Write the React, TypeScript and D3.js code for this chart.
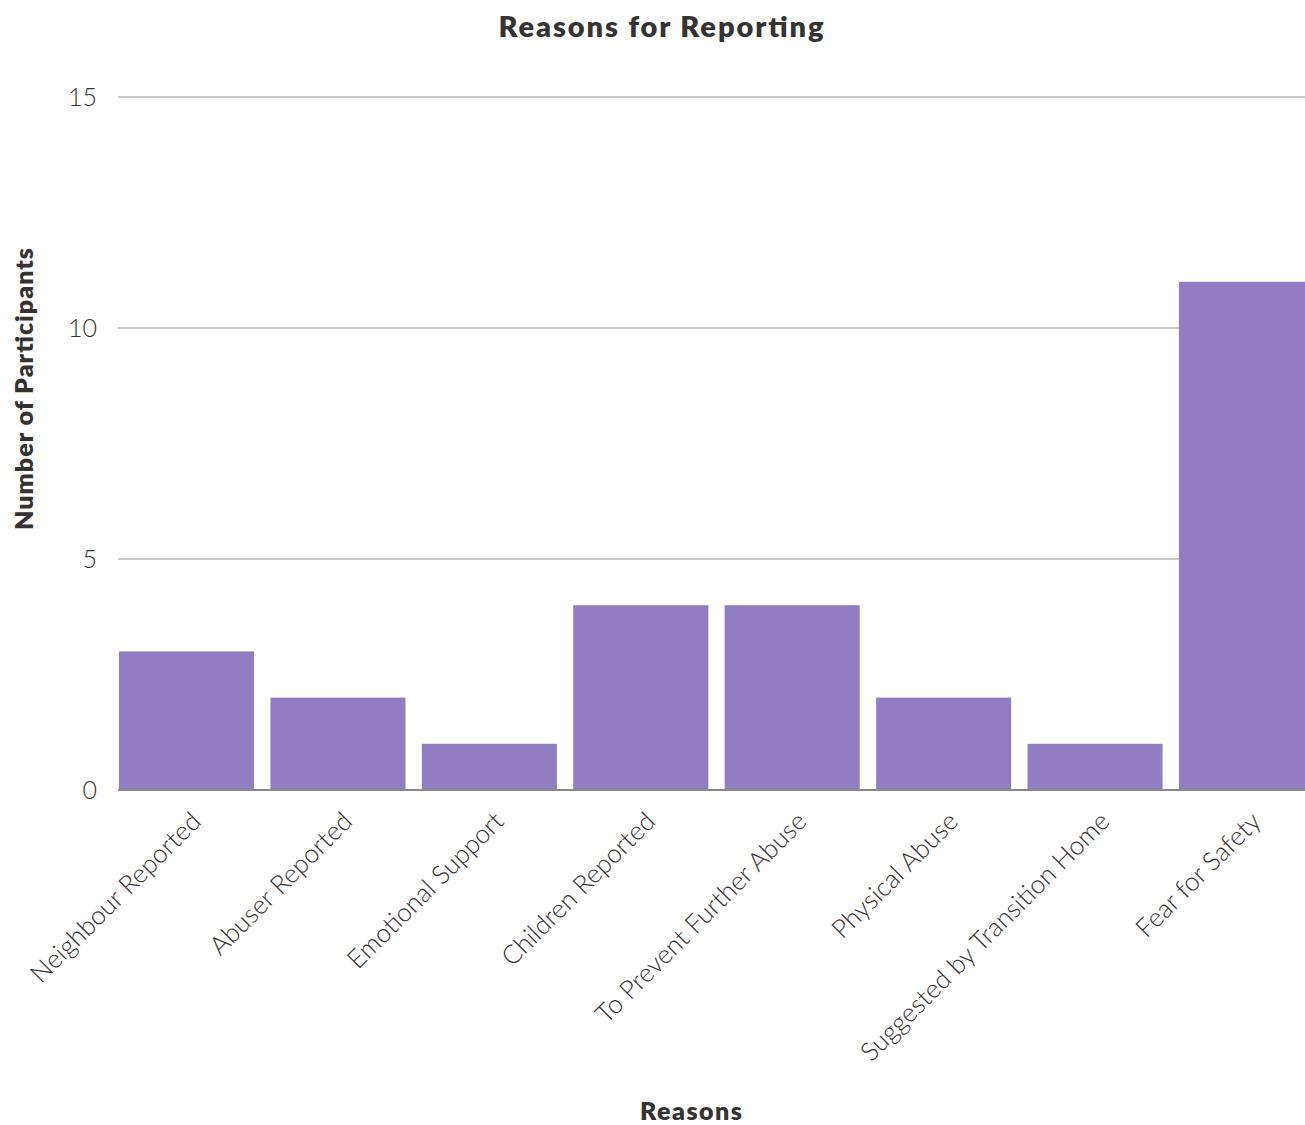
import React from "react";
import * as d3 from "d3";

const categories: string[] = [
  "Neighbour Reported",
  "Abuser Reported",
  "Emotional Support",
  "Children Reported",
  "To Prevent Further Abuse",
  "Physical Abuse",
  "Suggested by Transition Home",
  "Fear for Safety",
];
const participants: number[] = [3, 2, 1, 4, 4, 2, 1, 11];
const yTicks: number[] = [0, 5, 10, 15];

const chartTitle = "Reasons for Reporting";
const xTitle = "Reasons";
const yTitle = "Number of Participants";

const W = 1305;
const H = 1125;
const FONT = "Lato, 'Open Sans', sans-serif";
const TEXT = "#353232";
const BAR = "#917dc2";

export default function App() {
  const x = d3.scaleBand<string>().domain(categories).range([119, 1314]).paddingInner(0.108).paddingOuter(0);
  const y = d3.scaleLinear().domain([0, 15]).range([790, 97]);
  const bw = x.bandwidth();
  const left = 118;

  return (
    <>
      <style>{`body{margin:0}`}</style>
      <svg width={W} height={H} style={{ display: "block", background: "#fff" }} fontFamily={FONT}>
        <text x={661} y={37} textAnchor="middle" fontSize={29} fontWeight={800} fill={TEXT} textLength={325} lengthAdjust="spacing">
          {chartTitle}
        </text>
        {yTicks.filter((t) => t > 0).map((t) => (
          <line key={"g" + t} x1={left} x2={W} y1={y(t)} y2={y(t)} stroke="#cccccc" strokeWidth={2} />
        ))}
        {yTicks.map((t) => (
          <text key={"t" + t} x={97} y={y(t)} dy="0.36em" textAnchor="end" fontSize={25} fontWeight={300} fill={TEXT}>
            {t}
          </text>
        ))}
        {categories.map((c, i) => (
          <rect key={c} x={x(c)} y={y(participants[i])} width={bw} height={y(0) - y(participants[i])} fill={BAR} />
        ))}
        <line x1={left} x2={W} y1={y(0)} y2={y(0)} stroke="#888888" strokeWidth={2} />
        {categories.map((c) => {
          const cx = (x(c) as number) + bw / 2 + 16;
          const cy = 823;
          return (
            <text key={"l" + c} transform={`translate(${cx},${cy}) rotate(-45)`} textAnchor="end" fontSize={26} fontWeight={300} fill={TEXT}>
              {c}
            </text>
          );
        })}
        <text x={691} y={1120} textAnchor="middle" fontSize={25} fontWeight={800} fill={TEXT} textLength={102} lengthAdjust="spacing">
          {xTitle}
        </text>
        <text transform={`translate(33,389) rotate(-90)`} textAnchor="middle" fontSize={25} fontWeight={800} fill={TEXT} textLength={282} lengthAdjust="spacing">
          {yTitle}
        </text>
      </svg>
    </>
  );
}
